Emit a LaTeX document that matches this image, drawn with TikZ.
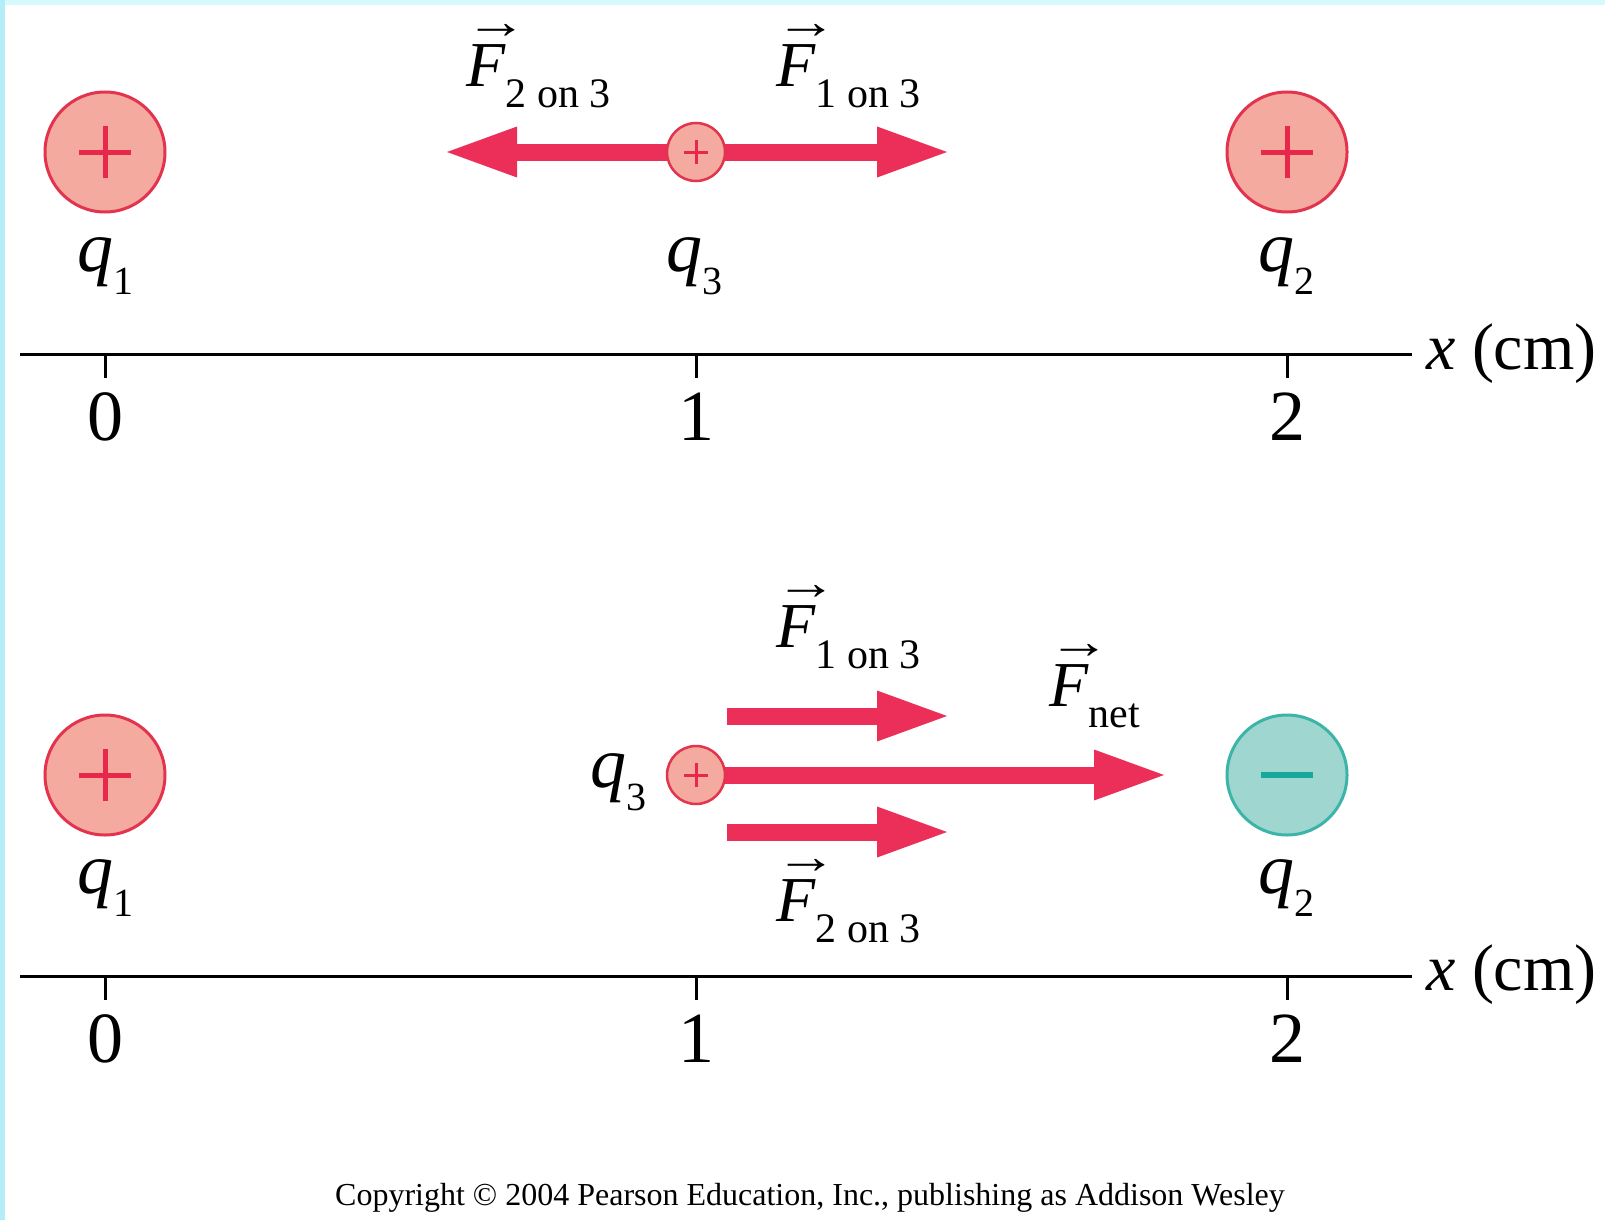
\documentclass[tikz,border=0pt]{standalone}
\usepackage{fontspec}
\setmainfont{Liberation Serif}
\usepackage{graphicx}
\usetikzlibrary{arrows.meta}
\definecolor{posfill}{RGB}{244,170,158}
\definecolor{posline}{RGB}{226,52,78}
\definecolor{possign}{RGB}{232,40,75}
\definecolor{forcecol}{RGB}{235,47,88}
\definecolor{negfill}{RGB}{160,214,208}
\definecolor{negline}{RGB}{60,180,168}
\definecolor{negsign}{RGB}{22,168,155}
\definecolor{cyanleft}{RGB}{180,236,248}
\definecolor{cyantop}{RGB}{214,250,252}
\newcommand\vecF{\makebox[0pt][l]{\hspace{-1pt}\raisebox{48pt}[0pt][0pt]{\resizebox{62pt}{!}{\scalebox{1}[0.8]{→}}}}\textit{F}}
\newcommand\fsub[1]{\raisebox{-21pt}{\fontsize{42}{42}\selectfont #1}}
\newcommand\qsub[1]{\raisebox{-23pt}{\fontsize{40}{40}\selectfont #1}}
\tikzset{
  bigpos/.style={circle, minimum size=120pt, inner sep=0pt, fill=posfill, draw=posline, line width=3pt},
  bigneg/.style={circle, minimum size=120pt, inner sep=0pt, fill=negfill, draw=negline, line width=3pt},
  smallpos/.style={circle, minimum size=58pt, inner sep=0pt, fill=posfill, draw=posline, line width=2.5pt},
  bigsign/.style={line width=5pt},
  smallsign/.style={draw=possign, line width=3pt},
  force/.style={draw=forcecol, line width=17pt, -{Triangle[length=70pt, width=51pt, line width=0pt, fill=forcecol]}},
  axisline/.style={line width=3pt, black},
  tick/.style={line width=3pt, black},
  flab/.style={inner sep=0pt, anchor=base west, font=\fontsize{64}{64}\selectfont},
  qlab/.style={inner sep=0pt, anchor=base, font=\fontsize{72}{72}\selectfont},
  ticklab/.style={inner sep=0pt, anchor=base, font=\fontsize{72}{72}\selectfont},
  axlab/.style={inner sep=0pt, anchor=base west, font=\fontsize{66}{66}\selectfont},
}
\begin{document}
\begin{tikzpicture}[x=1pt, y=-1pt]
\useasboundingbox (0,0) rectangle (1605,1220);
\fill[white] (0,0) rectangle (1605,1220);
\fill[cyantop] (0,0) rectangle (1605,5);
\fill[cyanleft] (0,0) rectangle (5,1220);

% ---------------- top panel ----------------
\coordinate (c3a) at (696,152);
\coordinate (tipLa) at (447,152);
\coordinate (tipRa) at (947,152);
\draw[force] (c3a) -- (tipLa);
\draw[force] (c3a) -- (tipRa);
\node[bigpos] (q1a) at (105,152) {};
\node[bigpos] (q2a) at (1287,152) {};
\node[smallpos] (q3a) at (c3a) {};
\foreach \n in {q1a,q2a}{
  \draw[bigsign, possign] ([xshift=-26pt]\n.center) -- ([xshift=26pt]\n.center);
  \draw[bigsign, possign] ([yshift=-26pt]\n.center) -- ([yshift=26pt]\n.center);
}
\draw[smallsign] ([xshift=-12pt]q3a.center) -- ([xshift=12pt]q3a.center);
\draw[smallsign] ([yshift=-12pt]q3a.center) -- ([yshift=12pt]q3a.center);

\node[flab] (f23a) at (466,87) {\vecF\fsub{2 on 3}};
\node[flab] (f13a) at (776,87) {\vecF\fsub{1 on 3}};
\node[qlab] (lq1a) at (105,271) {\textit{q}\qsub{1}};
\node[qlab] (lq3a) at (694,271) {\textit{q}\qsub{3}};
\node[qlab] (lq2a) at (1286,271) {\textit{q}\qsub{2}};

\coordinate (axLa) at (20,354);
\coordinate (axRa) at (1412,354);
\draw[axisline] (axLa) -- (axRa);
\foreach \x/\t in {105/0,696/1,1287/2}{
  \draw[tick] (\x,354) -- (\x,378);
  \node[ticklab] at (\x,440) {\t};
}
\node[axlab] (xla) at (1426,369) {\textit{x} (cm)};

% ---------------- bottom panel ----------------
\coordinate (c3b) at (696,775);
\coordinate (s13b) at (727,716);
\coordinate (t13b) at (947,716);
\coordinate (s23b) at (727,832);
\coordinate (t23b) at (947,832);
\coordinate (tnetb) at (1164,775);
\draw[force] (s13b) -- (t13b);
\draw[force] (s23b) -- (t23b);
\draw[force] (c3b) -- (tnetb);
\node[bigpos] (q1b) at (105,775) {};
\node[bigneg] (q2b) at (1287,775) {};
\node[smallpos] (q3b) at (c3b) {};
\draw[bigsign, possign] ([xshift=-26pt]q1b.center) -- ([xshift=26pt]q1b.center);
\draw[bigsign, possign] ([yshift=-26pt]q1b.center) -- ([yshift=26pt]q1b.center);
\draw[line width=6pt, negsign] ([xshift=-26pt]q2b.center) -- ([xshift=26pt]q2b.center);
\draw[smallsign] ([xshift=-12pt]q3b.center) -- ([xshift=12pt]q3b.center);
\draw[smallsign] ([yshift=-12pt]q3b.center) -- ([yshift=12pt]q3b.center);

\node[flab] (f13b) at (776,647) {\vecF\fsub{1 on 3}};
\node[flab] (f23b) at (776,921) {\vecF\fsub{2 on 3}};
\node[flab] (fnetb) at (1049,706) {\vecF\fsub{net}};
\node[qlab] (lq1b) at (105,893) {\textit{q}\qsub{1}};
\node[qlab] (lq3b) at (618,787) {\textit{q}\qsub{3}};
\node[qlab] (lq2b) at (1286,893) {\textit{q}\qsub{2}};

\coordinate (axLb) at (20,976);
\coordinate (axRb) at (1412,976);
\draw[axisline] (axLb) -- (axRb);
\foreach \x/\t in {105/0,696/1,1287/2}{
  \draw[tick] (\x,976) -- (\x,1000);
  \node[ticklab] at (\x,1062) {\t};
}
\node[axlab] (xlb) at (1426,990) {\textit{x} (cm)};

\node[inner sep=0pt, anchor=base, font=\fontsize{32}{32}\selectfont] (copy) at (810,1205)
  {Copyright © 2004 Pearson Education, Inc., publishing as Addison Wesley};
\end{tikzpicture}
\end{document}
